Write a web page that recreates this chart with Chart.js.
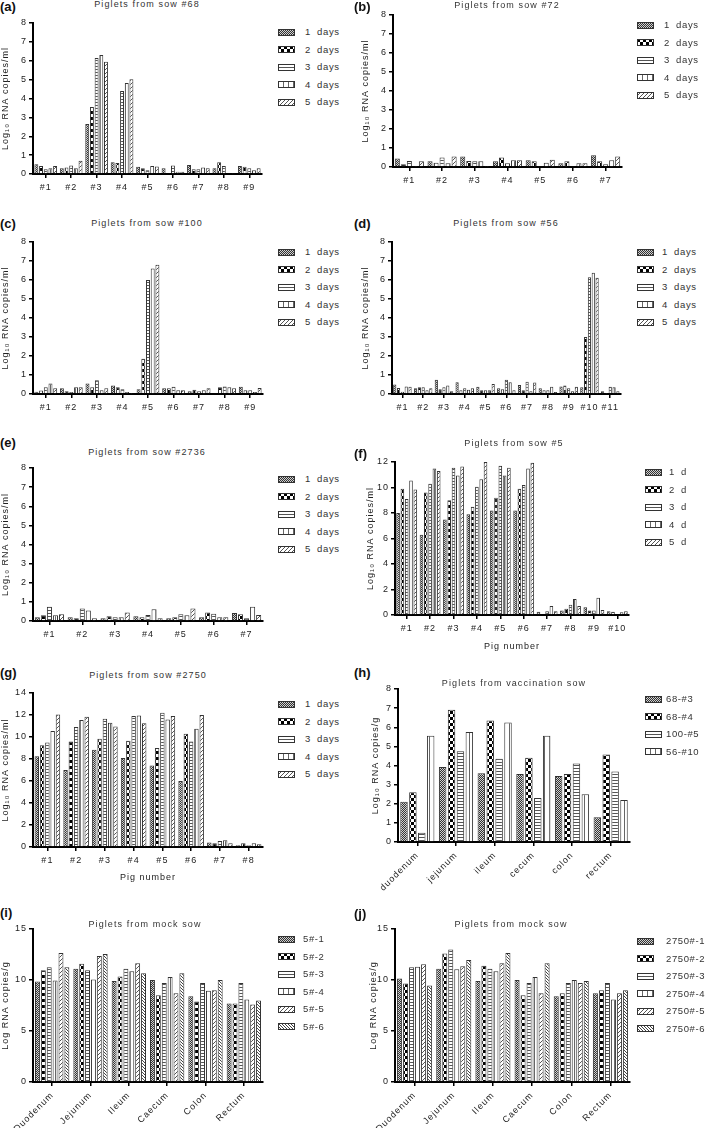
<!DOCTYPE html>
<html>
<head>
<meta charset="utf-8">
<title>Piglets RNA copies</title>
<script src="https://cdn.jsdelivr.net/npm/chart.js@4.4.1/dist/chart.umd.min.js"></script>
<style>
  html, body { margin: 0; padding: 0; background: #fff; }
  #page { position: relative; width: 709px; height: 1128px; overflow: hidden; font-family: "Liberation Sans", Arial, sans-serif; color: #222; }
  #page canvas { position: absolute; }
  .tag { position: absolute; font-size: 13px; font-weight: bold; line-height: 13px; color: #111; }
  .ttl { position: absolute; font-size: 9px; letter-spacing: 1.1px; white-space: nowrap; transform: translate(-50%, -50%); line-height: 10px; color: #333; }
  .lgt { position: absolute; font-size: 9.5px; letter-spacing: 0.6px; word-spacing: 3px; white-space: nowrap; transform: translateY(-50%); line-height: 10px; color: #333; }
</style>
</head>
<body>
<div id="page"></div>
<script>
// ---- labels ----
var pigs = ["#1", "#2", "#3", "#4", "#5", "#6", "#7", "#8", "#9", "#10", "#11"];
var tissuesLower = ["duodenum", "jejunum", "ileum", "cecum", "colon", "rectum"];
var tissuesUpper = ["Duodenum", "Jejunum", "Ileum", "Caecum", "Colon", "Rectum"];
var daysLong = ["1 days", "2 days", "3 days", "4 days", "5 days"];
var daysShort = ["1 d", "2 d", "3 d", "4 d", "5 d"];
var vaccGroups = ["68-#3", "68-#4", "100-#5", "56-#10"];
var mock5Pigs = ["5#-1", "5#-2", "5#-3", "5#-4", "5#-5", "5#-6"];
var mock2750Pigs = ["2750#-1", "2750#-2", "2750#-3", "2750#-4", "2750#-5", "2750#-6"];

// ---- values: one row per category, one entry per series ----
var sow68 = [
    [0.52, 0.42, 0.25, 0.3, 0.42],
    [0.3, 0.35, 0.45, 0.3, 0.7],
    [2.65, 3.55, 6.15, 6.3, 5.95],
    [0.62, 0.58, 4.4, 4.82, 5.02],
    [0.38, 0.3, 0.2, 0.42, 0.4],
    [0.3, 0.05, 0.45, 0.12, 0.12],
    [0.48, 0.25, 0.25, 0.35, 0.3],
    [0.3, 0.62, 0.42, 0.05, 0.02],
    [0.42, 0.38, 0.3, 0.2, 0.3]
];
var sow72 = [
    [0.45, 0.15, 0.32, 0.02, 0.3],
    [0.3, 0.22, 0.5, 0.2, 0.55],
    [0.55, 0.32, 0.3, 0.3, 0.02],
    [0.3, 0.5, 0.2, 0.35, 0.35],
    [0.35, 0.3, 0.05, 0.22, 0.38],
    [0.2, 0.3, 0.02, 0.2, 0.2],
    [0.62, 0.3, 0.15, 0.35, 0.55]
];
var sow100 = [
    [0.12, 0.18, 0.35, 0.55, 0.3],
    [0.3, 0.15, 0.1, 0.35, 0.35],
    [0.55, 0.35, 0.72, 0.2, 0.3],
    [0.45, 0.35, 0.25, 0.1, 0.02],
    [0.25, 1.85, 6.0, 6.6, 6.8],
    [0.3, 0.3, 0.38, 0.2, 0.2],
    [0.15, 0.22, 0.15, 0.2, 0.3],
    [0.05, 0.35, 0.4, 0.35, 0.3],
    [0.38, 0.2, 0.2, 0.1, 0.32]
];
var sow56 = [
    [0.5, 0.32, 0.12, 0.4, 0.38],
    [0.3, 0.35, 0.35, 0.2, 0.3],
    [0.75, 0.25, 0.35, 0.45, 0.15],
    [0.62, 0.2, 0.3, 0.22, 0.3],
    [0.38, 0.2, 0.2, 0.2, 0.52],
    [0.3, 0.25, 0.75, 0.62, 0.2],
    [0.48, 0.2, 0.65, 0.15, 0.6],
    [0.3, 0.2, 0.2, 0.38, 0.1],
    [0.4, 0.45, 0.3, 0.15, 0.38],
    [0.35, 3.0, 6.15, 6.38, 6.12],
    [0.15, 0.02, 0.38, 0.35, 0.15]
];
var sow2736 = [
    [0.2, 0.3, 0.75, 0.3, 0.35],
    [0.2, 0.15, 0.65, 0.55, 0.15],
    [0.15, 0.25, 0.2, 0.2, 0.45],
    [0.25, 0.2, 0.32, 0.62, 0.15],
    [0.15, 0.2, 0.35, 0.3, 0.65],
    [0.2, 0.45, 0.38, 0.2, 0.2],
    [0.42, 0.35, 0.15, 0.75, 0.32]
];
var sow5 = [
    [8.0, 9.9, 9.1, 10.55, 9.85],
    [6.3, 9.6, 10.3, 11.5, 11.3],
    [7.5, 9.0, 11.55, 10.95, 11.65],
    [7.9, 8.5, 10.05, 10.65, 12.0],
    [8.2, 9.2, 11.7, 10.95, 11.55],
    [8.2, 9.9, 10.2, 11.5, 11.95],
    [0.25, 0.05, 0.3, 0.7, 0.3],
    [0.35, 0.5, 0.8, 1.25, 0.7],
    [0.6, 0.35, 0.35, 1.35, 0.4],
    [0.3, 0.25, 0.05, 0.22, 0.3]
];
var sow2750 = [
    [8.25, 9.25, 9.5, 10.55, 12.05],
    [7.0, 9.6, 10.9, 11.55, 11.85],
    [8.85, 9.85, 11.65, 11.3, 10.95],
    [8.1, 9.65, 11.9, 11.95, 11.25],
    [7.4, 9.0, 12.2, 11.6, 11.9],
    [6.0, 10.3, 9.6, 10.75, 12.0],
    [0.4, 0.35, 0.55, 0.62, 0.35],
    [0.15, 0.35, 0.15, 0.35, 0.25]
];
var vaccTissue = [
    [2.1, 2.6, 0.48, 5.55],
    [3.92, 6.92, 4.75, 5.75],
    [3.6, 6.35, 4.35, 6.25],
    [3.55, 4.4, 2.3, 5.55],
    [3.45, 3.55, 4.1, 2.5],
    [1.3, 4.57, 3.68, 2.2]
];
var mock5Tissue = [
    [9.85, 10.95, 11.25, 9.95, 12.65, 11.25],
    [11.1, 11.6, 10.95, 10.05, 12.35, 12.55],
    [9.9, 10.35, 11.1, 10.85, 11.65, 10.65],
    [10.0, 8.5, 9.7, 10.3, 8.7, 10.65],
    [8.4, 7.9, 9.7, 8.95, 9.0, 10.0],
    [7.7, 7.7, 9.7, 8.1, 7.6, 8.0]
];
var mock2750Tissue = [
    [10.15, 9.65, 11.25, 11.3, 11.55, 9.45],
    [11.1, 12.6, 13.0, 11.05, 11.35, 11.95],
    [9.9, 11.4, 11.1, 10.85, 11.65, 12.65],
    [10.0, 8.5, 9.7, 10.3, 8.7, 11.65],
    [8.4, 8.7, 9.7, 10.0, 9.7, 9.9],
    [8.7, 9.0, 9.7, 8.1, 8.7, 9.0]
];

var logMl = "Log\u2081\u2080 RNA copies/ml";
var logG = "Log\u2081\u2080 RNA copies/g";

// panel layout: col = left of column, plot = [left, top, right, bottom] in page px
var panels = [
    { tag: "(a)", col: 0, tagY: 0, title: "Piglets from sow #68", tx: 147, ty: 4,
      cats: pigs.slice(0, 9), rows: sow68, legend: daysLong, yMax: 8, yStep: 1, yTitle: logMl, yTx: 6,
      plot: [33, 23, 262, 174], bottom: 196, legX: 278, legTx: 305, legY: 32, legStep: 17.5 },
    { tag: "(b)", col: 354, tagY: 0, title: "Piglets from sow #72", tx: 507, ty: 5,
      cats: pigs.slice(0, 7), rows: sow72, legend: daysLong, yMax: 8, yStep: 1, yTitle: logMl, yTx: 12,
      plot: [393, 15, 622, 167], bottom: 189, legX: 637, legTx: 664, legY: 25, legStep: 17.5 },
    { tag: "(c)", col: 0, tagY: 217, title: "Piglets from sow #100", tx: 147, ty: 223,
      cats: pigs.slice(0, 9), rows: sow100, legend: daysLong, yMax: 8, yStep: 1, yTitle: logMl, yTx: 6,
      plot: [33, 242, 263, 394], bottom: 416, legX: 278, legTx: 305, legY: 252, legStep: 17.5 },
    { tag: "(d)", col: 354, tagY: 217, title: "Piglets from sow #56", tx: 506, ty: 223,
      cats: pigs.slice(0, 11), rows: sow56, legend: daysLong, yMax: 8, yStep: 1, yTitle: logMl, yTx: 12,
      plot: [392, 242, 621, 394], bottom: 416, legX: 637, legTx: 662, legY: 252, legStep: 17.5 },
    { tag: "(e)", col: 0, tagY: 436, title: "Piglets from sow #2736", tx: 147, ty: 452,
      cats: pigs.slice(0, 7), rows: sow2736, legend: daysLong, yMax: 8, yStep: 1, yTitle: logMl, yTx: 6,
      plot: [33, 468, 263, 621], bottom: 643, legX: 278, legTx: 305, legY: 479, legStep: 17.5 },
    { tag: "(f)", col: 354, tagY: 447, title: "Piglets from sow #5", tx: 514, ty: 443,
      cats: pigs.slice(0, 10), rows: sow5, legend: daysShort, yMax: 12, yStep: 2, yTitle: logMl, yTx: 17,
      xTitle: "Pig number",
      plot: [395, 462, 629, 615], bottom: 652, legX: 645, legTx: 669, legY: 472, legStep: 17.5 },
    { tag: "(g)", col: 0, tagY: 666, title: "Piglets from sow #2750", tx: 148, ty: 675,
      cats: pigs.slice(0, 8), rows: sow2750, legend: daysLong, yMax: 14, yStep: 2, yTitle: logMl, yTx: 5,
      xTitle: "Pig number",
      plot: [33, 693, 263, 847], bottom: 883, legX: 278, legTx: 305, legY: 704, legStep: 17.5 },
    { tag: "(h)", col: 354, tagY: 666, title: "Piglets from vaccination sow", tx: 514, ty: 683,
      cats: tissuesLower, rows: vaccTissue, legend: vaccGroups, yMax: 8, yStep: 1, yTitle: logG, yTx: 22,
      rotate: true,
      plot: [398, 689, 630, 842], bottom: 900, legX: 645, legTx: 666, legY: 699, legStep: 17.5 },
    { tag: "(i)", col: 0, tagY: 906, title: "Piglets from mock sow", tx: 145, ty: 924,
      cats: tissuesUpper, rows: mock5Tissue, legend: mock5Pigs, yMax: 15, yStep: 5, yTitle: "Log RNA copies/g", yTx: 6,
      rotate: true,
      plot: [33, 929, 263, 1082], bottom: 1128, legX: 278, legTx: 303, legY: 939, legStep: 17.5 },
    { tag: "(j)", col: 354, tagY: 907, title: "Piglets from mock sow", tx: 511, ty: 924,
      cats: tissuesUpper, rows: mock2750Tissue, legend: mock2750Pigs, yMax: 15, yStep: 5, yTitle: "Log RNA copies/g", yTx: 20,
      rotate: true,
      plot: [395, 929, 630, 1082], bottom: 1128, legX: 637, legTx: 666, legY: 941, legStep: 17.5 }
];

Chart.defaults.font.family = '"Liberation Sans", Arial, sans-serif';
Chart.defaults.color = '#222';
Chart.defaults.animation = false;

// fill patterns, one per series
function makePattern(kind) {
    var c = document.createElement('canvas');
    var g;
    if (kind === 'stipple') {
        c.width = 2; c.height = 2; g = c.getContext('2d');
        g.fillStyle = '#d0d0d0'; g.fillRect(0, 0, 2, 2);
        g.fillStyle = '#333'; g.fillRect(0, 0, 1, 1); g.fillRect(1, 1, 1, 1);
    } else if (kind === 'checker') {
        c.width = 6; c.height = 6; g = c.getContext('2d');
        g.fillStyle = '#fff'; g.fillRect(0, 0, 6, 6);
        g.fillStyle = '#000'; g.fillRect(0, 0, 3, 3); g.fillRect(3, 3, 3, 3);
    } else if (kind === 'hlines') {
        c.width = 4; c.height = 3; g = c.getContext('2d');
        g.fillStyle = '#fff'; g.fillRect(0, 0, 4, 3);
        g.fillStyle = '#555'; g.fillRect(0, 0, 4, 1);
    } else if (kind === 'vlines') {
        c.width = 5; c.height = 4; g = c.getContext('2d');
        g.fillStyle = '#fff'; g.fillRect(0, 0, 5, 4);
        g.fillStyle = '#666'; g.fillRect(0, 0, 1, 4);
    } else if (kind === 'fdiag') {
        c.width = 4; c.height = 4; g = c.getContext('2d');
        g.fillStyle = '#fff'; g.fillRect(0, 0, 4, 4);
        g.fillStyle = '#555';
        g.fillRect(3, 0, 1, 1); g.fillRect(2, 1, 1, 1); g.fillRect(1, 2, 1, 1); g.fillRect(0, 3, 1, 1);
    } else {
        c.width = 3; c.height = 3; g = c.getContext('2d');
        g.fillStyle = '#fff'; g.fillRect(0, 0, 3, 3);
        g.fillStyle = '#444';
        g.fillRect(0, 0, 1, 1); g.fillRect(1, 1, 1, 1); g.fillRect(2, 2, 1, 1);
    }
    return g.createPattern(c, 'repeat');
}
var patterns = ['stipple', 'checker', 'hlines', 'vlines', 'fdiag', 'bdiag'].map(makePattern);

var spacing = {
    id: 'spacing',
    beforeLayout: function (chart) { chart.ctx.letterSpacing = '1px'; },
    beforeDraw: function (chart) { chart.ctx.letterSpacing = '1px'; }
};

var page = document.getElementById('page');

function addDiv(cls, text, x, y) {
    var d = document.createElement('div');
    d.className = cls;
    d.textContent = text;
    d.style.left = x + 'px';
    d.style.top = y + 'px';
    page.appendChild(d);
    return d;
}

function drawPanel(p) {
    var left = p.plot[0], top = p.plot[1], right = p.plot[2], bottom = p.plot[3];
    var padTop = 8, padRight = 2;
    var cv = document.createElement('canvas');
    var w = right + padRight - p.col;
    var h = p.bottom - (top - padTop);
    cv.width = w; cv.height = h;
    cv.style.left = p.col + 'px';
    cv.style.top = (top - padTop) + 'px';
    cv.style.width = w + 'px';
    cv.style.height = h + 'px';
    page.appendChild(cv);

    var yWidth = left - p.col;
    var xHeight = p.bottom - bottom;
    var datasets = p.legend.map(function (name, j) {
        return {
            label: name,
            data: p.rows.map(function (r) { return r[j]; }),
            backgroundColor: patterns[j],
            borderColor: '#333',
            borderWidth: 1,
            categoryPercentage: 0.92,
            barPercentage: 0.84
        };
    });

    new Chart(cv.getContext('2d'), {
        type: 'bar',
        data: { labels: p.cats, datasets: datasets },
        options: {
            responsive: false,
            devicePixelRatio: 1,
            layout: { padding: { top: padTop, right: padRight, left: 0, bottom: 0 } },
            plugins: { legend: { display: false }, tooltip: { enabled: false } },
            scales: {
                x: {
                    offset: true,
                    grid: { offset: false, drawOnChartArea: false, tickLength: 4, color: '#000', lineWidth: 1.5 },
                    border: { color: '#000', width: 2 },
                    ticks: { font: { size: 9 }, color: '#222', padding: 4, autoSkip: false,
                             minRotation: p.rotate ? 45 : 0, maxRotation: p.rotate ? 45 : 0 },
                    title: { display: !!p.xTitle, text: p.xTitle || '', font: { size: 9 }, color: '#222', padding: 0 },
                    afterFit: function (s) { s.height = xHeight; }
                },
                y: {
                    min: 0, max: p.yMax,
                    grid: { drawOnChartArea: false, tickLength: 4, color: '#000', lineWidth: 1.5 },
                    border: { color: '#000', width: 2 },
                    ticks: { stepSize: p.yStep, font: { size: 9 }, color: '#222', padding: 2 },
                    title: { display: true, text: p.yTitle, font: { size: 9 }, color: '#222',
                             padding: { top: Math.max(p.yTx - 5.4, 0), bottom: 0 } },
                    afterFit: function (s) { s.width = yWidth; }
                }
            }
        },
        plugins: [spacing]
    });

    addDiv('tag', p.tag, p.col, p.tagY);
    addDiv('ttl', p.title, p.tx, p.ty);
    p.legend.forEach(function (name, j) {
        var y = p.legY + j * p.legStep;
        var sw = document.createElement('canvas');
        sw.width = 17; sw.height = 7;
        sw.style.left = p.legX + 'px';
        sw.style.top = Math.round(y - 3.5) + 'px';
        var g = sw.getContext('2d');
        g.fillStyle = patterns[j];
        g.fillRect(0, 0, 17, 7);
        g.strokeStyle = '#333';
        g.lineWidth = 1;
        g.strokeRect(0.5, 0.5, 16, 6);
        page.appendChild(sw);
        addDiv('lgt', name, p.legTx, y);
    });
}

panels.forEach(drawPanel);
</script>
</body>
</html>
